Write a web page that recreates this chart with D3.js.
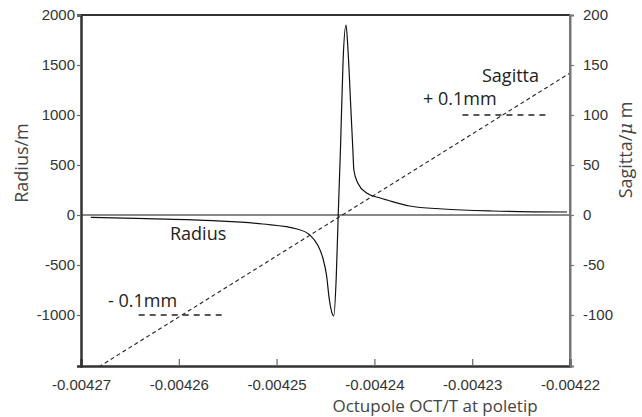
<!DOCTYPE html>
<html>
<head>
<meta charset="utf-8">
<script src="https://d3js.org/d3.v7.min.js"></script>
<style>
  body { margin: 0; background: #fff; }
  svg { display: block; font-family: "Open Sans", sans-serif; }
  .tick text { fill: #333; font-size: 15px; }
</style>
</head>
<body>
<div id="chart"></div>
<script>
// octupole strength (T at poletip) and curvature radius (m)
const octX = [-0.004269, -0.0042633, -0.0042565, -0.0042514, -0.0042479, -0.0042466,
  -0.0042458, -0.0042453, -0.0042449, -0.0042446, -0.0042443, -0.00424416, -0.0042439,
  -0.0042437, -0.00424345, -0.0042432, -0.0042429, -0.0042427, -0.0042424, -0.0042422,
  -0.0042421, -0.0042417, -0.0042408, -0.0042394, -0.0042387, -0.0042364, -0.0042330,
  -0.0042279, -0.0042203];
const radius = [-23, -37, -57, -90, -140, -200, -300, -420, -600, -850, -990, -1010, -620,
  0, 720, 1550, 1900, 1650, 1050, 650, 450, 320, 220, 170, 150, 90, 60, 40, 30];

// sagitta (um), a straight line across the range
const sagX = [-0.00427, -0.00422];
const sagitta = [-163, 142];

// +/- 0.1 mm limit marks
const limits = [
  { label: "- 0.1mm", level: -100, x0: -0.0042641, x1: -0.0042551 },
  { label: "+ 0.1mm", level: 100, x0: -0.0042310, x1: -0.0042222 }
];

const xTicks = [-0.00427, -0.00426, -0.00425, -0.00424, -0.00423, -0.00422];
const yLeftTicks = [-1000, -500, 0, 500, 1000, 1500, 2000];
const yRightTicks = [-100, -50, 0, 50, 100, 150, 200];

const width = 642, height = 417;
const m = { left: 81, right: 570, top: 15, bottom: 366 };

const svg = d3.select("#chart").append("svg")
  .attr("width", width)
  .attr("height", height);

const x = d3.scaleLinear().domain([-0.00427, -0.00422]).range([m.left, m.right]);
const yL = d3.scaleLinear().domain([-1510, 2000]).range([m.bottom, m.top]);
const yR = d3.scaleLinear().domain([-151, 200]).range([m.bottom, m.top]);

svg.append("clipPath").attr("id", "plot")
  .append("rect")
  .attr("x", m.left).attr("y", m.top)
  .attr("width", m.right - m.left).attr("height", m.bottom - m.top);

// zero line
svg.append("line")
  .attr("x1", m.left).attr("x2", m.right)
  .attr("y1", yL(0)).attr("y2", yL(0))
  .attr("stroke", "#888").attr("stroke-width", 2);

// radius curve
const radiusPts = octX.map((d, i) => [d, radius[i]]);
svg.append("path")
  .datum(radiusPts)
  .attr("clip-path", "url(#plot)")
  .attr("fill", "none")
  .attr("stroke", "#111")
  .attr("stroke-width", 1.2)
  .attr("d", d3.line().x(d => x(d[0])).y(d => yL(d[1])).curve(d3.curveMonotoneX));

// sagitta line
const sagPts = sagX.map((d, i) => [d, sagitta[i]]);
svg.append("path")
  .datum(sagPts)
  .attr("clip-path", "url(#plot)")
  .attr("fill", "none")
  .attr("stroke", "#222")
  .attr("stroke-width", 1.1)
  .attr("stroke-dasharray", "4,3")
  .attr("d", d3.line().x(d => x(d[0])).y(d => yR(d[1])));

// limit segments
svg.selectAll(".limit")
  .data(limits)
  .enter().append("line")
  .attr("class", "limit")
  .attr("x1", d => x(d.x0)).attr("x2", d => x(d.x1))
  .attr("y1", d => yR(d.level)).attr("y2", d => yR(d.level))
  .attr("stroke", "#222")
  .attr("stroke-width", 1.5)
  .attr("stroke-dasharray", "6,5");

// frame
svg.append("line").attr("x1", m.left).attr("x2", m.right).attr("y1", m.top).attr("y2", m.top)
  .attr("stroke", "#333").attr("stroke-width", 2);
svg.append("line").attr("x1", m.right).attr("x2", m.right).attr("y1", m.top).attr("y2", m.bottom)
  .attr("stroke", "#777").attr("stroke-width", 2);

// axes
const xAxis = svg.append("g")
  .attr("transform", `translate(0,${m.bottom})`)
  .call(d3.axisBottom(x).tickValues(xTicks).tickSize(-7).tickPadding(13)
    .tickFormat(d => d.toFixed(5)));

const leftAxis = svg.append("g")
  .attr("transform", `translate(${m.left},0)`)
  .call(d3.axisLeft(yL).tickValues(yLeftTicks).tickSize(4).tickPadding(2)
    .tickFormat(d => String(d)));

const rightAxis = svg.append("g")
  .attr("transform", `translate(${m.right},0)`)
  .call(d3.axisRight(yR).tickValues(yRightTicks).tickSize(4).tickPadding(9)
    .tickFormat(d => String(d)));

[xAxis, leftAxis].forEach(g => {
  g.select(".domain").attr("stroke", "#333").attr("stroke-width", 2.5);
  g.selectAll(".tick line").attr("stroke", "#666").attr("stroke-width", 1.2);
});
rightAxis.select(".domain").attr("stroke", "#777").attr("stroke-width", 2);
rightAxis.selectAll(".tick line").attr("stroke", "#777").attr("stroke-width", 1.2);

// axis titles
svg.append("text")
  .attr("transform", "translate(28,163) rotate(-90)")
  .attr("text-anchor", "middle")
  .attr("fill", "#444")
  .style("font-size", "18px")
  .text("Radius/m");

const rt = svg.append("text")
  .attr("transform", "translate(632,150) rotate(-90)")
  .attr("text-anchor", "middle")
  .attr("fill", "#444")
  .style("font-size", "18px");
rt.append("tspan").text("Sagitta/");
rt.append("tspan").attr("font-style", "italic").attr("font-family", "DejaVu Serif").text("μ");
rt.append("tspan").text(" m");

svg.append("text")
  .attr("x", 435).attr("y", 412)
  .attr("text-anchor", "middle")
  .attr("fill", "#444")
  .style("font-size", "17px")
  .text("Octupole OCT/T at poletip");

// annotations
const notes = [
  { text: "Sagitta", px: 482, py: 82 },
  { text: "+ 0.1mm", px: 423, py: 105 },
  { text: "Radius", px: 170, py: 240 },
  { text: "- 0.1mm", px: 108, py: 307 }
];
svg.selectAll(".note")
  .data(notes)
  .enter().append("text")
  .attr("class", "note")
  .attr("x", d => d.px).attr("y", d => d.py)
  .attr("fill", "#222")
  .style("font-size", "18px")
  .text(d => d.text);
</script>
</body>
</html>
